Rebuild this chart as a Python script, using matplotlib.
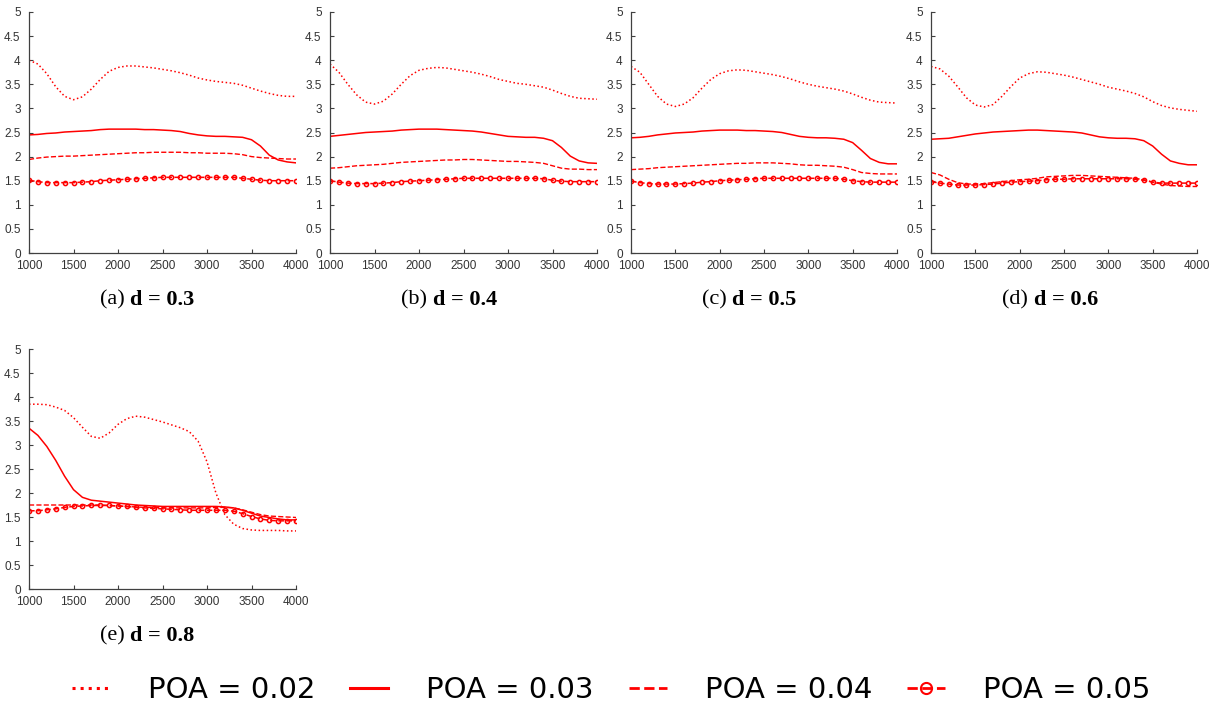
import numpy as np
import matplotlib
matplotlib.use("Agg")
from matplotlib import pyplot as plt
from matplotlib.lines import Line2D
from matplotlib.ticker import FormatStrFormatter

# frequency axis, one value every 100
freq = list(range(1000, 4001, 100))

panel_tags = ["(a)", "(b)", "(c)", "(d)", "(e)"]
panel_d = ["d = 0.3", "d = 0.4", "d = 0.5", "d = 0.6", "d = 0.8"]
poa_labels = ["POA = 0.02", "POA = 0.03", "POA = 0.04", "POA = 0.05"]

# d = 0.3
a_002 = [4.00, 3.92, 3.72, 3.45, 3.25, 3.18, 3.24, 3.40, 3.60, 3.77, 3.85, 3.88, 3.88, 3.86, 3.84, 3.81,
         3.78, 3.74, 3.69, 3.63, 3.59, 3.56, 3.54, 3.52, 3.48, 3.42, 3.36, 3.31, 3.27, 3.25, 3.25]
a_003 = [2.45, 2.46, 2.48, 2.49, 2.51, 2.52, 2.53, 2.54, 2.56, 2.57, 2.57, 2.57, 2.57, 2.56, 2.56, 2.55,
         2.54, 2.52, 2.48, 2.45, 2.43, 2.42, 2.42, 2.41, 2.40, 2.35, 2.22, 2.03, 1.93, 1.89, 1.87]
a_004 = [1.94, 1.97, 1.99, 2.00, 2.01, 2.01, 2.02, 2.03, 2.04, 2.05, 2.06, 2.07, 2.08, 2.08, 2.09, 2.09,
         2.09, 2.09, 2.08, 2.08, 2.07, 2.07, 2.07, 2.06, 2.04, 2.00, 1.98, 1.97, 1.96, 1.95, 1.95]
a_005 = [1.51, 1.48, 1.46, 1.46, 1.46, 1.46, 1.47, 1.48, 1.50, 1.51, 1.52, 1.53, 1.54, 1.55, 1.56, 1.57,
         1.57, 1.57, 1.57, 1.57, 1.57, 1.57, 1.57, 1.57, 1.55, 1.53, 1.51, 1.50, 1.50, 1.50, 1.50]

# d = 0.4
b_002 = [3.92, 3.75, 3.50, 3.28, 3.13, 3.09, 3.15, 3.30, 3.50, 3.68, 3.79, 3.83, 3.85, 3.84, 3.81, 3.78,
         3.75, 3.71, 3.66, 3.60, 3.56, 3.52, 3.50, 3.47, 3.44, 3.38, 3.31, 3.25, 3.21, 3.20, 3.19]
b_003 = [2.42, 2.44, 2.46, 2.48, 2.50, 2.51, 2.52, 2.53, 2.55, 2.56, 2.57, 2.57, 2.57, 2.56, 2.55, 2.54,
         2.53, 2.51, 2.48, 2.45, 2.42, 2.41, 2.40, 2.40, 2.38, 2.33, 2.19, 2.01, 1.91, 1.87, 1.86]
b_004 = [1.76, 1.77, 1.79, 1.81, 1.82, 1.83, 1.84, 1.86, 1.88, 1.89, 1.90, 1.91, 1.92, 1.93, 1.93, 1.94,
         1.94, 1.93, 1.92, 1.91, 1.90, 1.90, 1.89, 1.88, 1.86, 1.81, 1.76, 1.74, 1.74, 1.73, 1.73]
b_005 = [1.50, 1.47, 1.45, 1.44, 1.44, 1.44, 1.45, 1.46, 1.48, 1.49, 1.50, 1.51, 1.52, 1.53, 1.54, 1.55,
         1.55, 1.55, 1.55, 1.55, 1.55, 1.55, 1.55, 1.55, 1.54, 1.51, 1.49, 1.48, 1.48, 1.48, 1.48]

# d = 0.5
c_002 = [3.87, 3.75, 3.50, 3.25, 3.09, 3.04, 3.09, 3.22, 3.42, 3.60, 3.72, 3.78, 3.80, 3.79, 3.76, 3.73,
         3.70, 3.66, 3.61, 3.55, 3.50, 3.46, 3.43, 3.40, 3.36, 3.30, 3.23, 3.17, 3.13, 3.12, 3.11]
c_003 = [2.39, 2.40, 2.42, 2.45, 2.47, 2.49, 2.50, 2.51, 2.53, 2.54, 2.55, 2.55, 2.55, 2.54, 2.54, 2.53,
         2.52, 2.50, 2.46, 2.42, 2.40, 2.39, 2.39, 2.38, 2.36, 2.29, 2.13, 1.96, 1.88, 1.85, 1.85]
c_004 = [1.73, 1.74, 1.75, 1.77, 1.78, 1.79, 1.80, 1.81, 1.82, 1.83, 1.84, 1.85, 1.86, 1.86, 1.87, 1.87,
         1.87, 1.86, 1.85, 1.83, 1.82, 1.82, 1.81, 1.80, 1.78, 1.73, 1.67, 1.65, 1.64, 1.64, 1.64]
c_005 = [1.49, 1.46, 1.44, 1.43, 1.43, 1.43, 1.44, 1.45, 1.47, 1.48, 1.50, 1.51, 1.52, 1.53, 1.54, 1.55,
         1.55, 1.55, 1.55, 1.55, 1.55, 1.55, 1.55, 1.55, 1.53, 1.50, 1.48, 1.47, 1.47, 1.47, 1.47]

# d = 0.6
d_002 = [3.87, 3.82, 3.67, 3.45, 3.22, 3.07, 3.03, 3.08, 3.25, 3.45, 3.63, 3.72, 3.76, 3.75, 3.72, 3.69,
         3.65, 3.60, 3.55, 3.50, 3.44, 3.40, 3.36, 3.31, 3.24, 3.14, 3.06, 3.01, 2.98, 2.96, 2.94]
d_003 = [2.36, 2.37, 2.38, 2.41, 2.44, 2.47, 2.49, 2.51, 2.52, 2.53, 2.54, 2.55, 2.55, 2.54, 2.53, 2.52,
         2.51, 2.49, 2.45, 2.41, 2.39, 2.38, 2.38, 2.37, 2.33, 2.22, 2.05, 1.91, 1.86, 1.83, 1.83]
d_004 = [1.67, 1.62, 1.53, 1.46, 1.43, 1.43, 1.44, 1.46, 1.48, 1.50, 1.52, 1.53, 1.55, 1.58, 1.59, 1.60,
         1.61, 1.61, 1.60, 1.59, 1.58, 1.57, 1.56, 1.55, 1.52, 1.47, 1.43, 1.40, 1.39, 1.38, 1.38]
d_005 = [1.48, 1.45, 1.43, 1.41, 1.41, 1.41, 1.42, 1.43, 1.45, 1.47, 1.48, 1.49, 1.50, 1.52, 1.53, 1.53,
         1.54, 1.54, 1.54, 1.54, 1.54, 1.54, 1.54, 1.53, 1.51, 1.47, 1.45, 1.45, 1.45, 1.45, 1.45]

# d = 0.8
e_002 = [3.85, 3.85, 3.84, 3.79, 3.72, 3.57, 3.37, 3.18, 3.14, 3.25, 3.43, 3.55, 3.60, 3.58, 3.53, 3.48,
         3.42, 3.36, 3.28, 3.08, 2.65, 2.00, 1.55, 1.35, 1.26, 1.23, 1.22, 1.22, 1.22, 1.21, 1.21]
e_003 = [3.35, 3.20, 2.97, 2.68, 2.35, 2.07, 1.91, 1.85, 1.83, 1.81, 1.79, 1.77, 1.75, 1.74, 1.73, 1.72,
         1.72, 1.72, 1.72, 1.72, 1.72, 1.72, 1.71, 1.69, 1.64, 1.58, 1.52, 1.49, 1.46, 1.44, 1.44]
e_004 = [1.75, 1.75, 1.75, 1.75, 1.75, 1.75, 1.75, 1.75, 1.75, 1.74, 1.73, 1.72, 1.71, 1.70, 1.70, 1.69,
         1.69, 1.69, 1.69, 1.69, 1.69, 1.70, 1.70, 1.69, 1.65, 1.60, 1.55, 1.52, 1.51, 1.50, 1.49]
e_005 = [1.63, 1.63, 1.65, 1.67, 1.70, 1.72, 1.73, 1.74, 1.74, 1.74, 1.73, 1.72, 1.70, 1.69, 1.68, 1.67,
         1.66, 1.65, 1.64, 1.64, 1.64, 1.64, 1.64, 1.62, 1.57, 1.51, 1.46, 1.43, 1.42, 1.42, 1.42]

panels = [
    [a_002, a_003, a_004, a_005],
    [b_002, b_003, b_004, b_005],
    [c_002, c_003, c_004, c_005],
    [d_002, d_003, d_004, d_005],
    [e_002, e_003, e_004, e_005],
]

W, H = 1215, 713
# axes boxes in pixels: left, top, right, bottom
boxes = [(29, 12, 296, 253), (330, 12, 597, 253), (631, 12, 897, 253),
         (931, 12, 1197, 253), (29, 349, 296, 589)]

RED = "#ff0000"
AXC = "#404040"
styles = [dict(ls=":", lw=1.1),
          dict(ls="-", lw=1.1),
          dict(ls="--", lw=1.0),
          dict(ls="--", lw=1.1, marker="o", ms=3.0, mfc="none", mew=1.1)]

fig = plt.figure(figsize=(W / 100, H / 100), dpi=100)

for i, series in enumerate(panels):
    l, t, r, b = boxes[i]
    ax = fig.add_axes([l / W, 1 - b / H, (r - l) / W, (b - t) / H])
    for vals, st in zip(series, styles):
        ax.plot(freq, vals, color=RED, **st)
    ax.set_xlim(1000, 4000)
    ax.set_ylim(0, 5)
    ax.set_xticks(np.arange(1000, 4001, 500))
    ax.set_yticks(np.arange(0, 5.01, 0.5))
    ax.yaxis.set_major_formatter(FormatStrFormatter("%g"))
    for s in ["top", "right"]:
        ax.spines[s].set_visible(False)
    for s in ["left", "bottom"]:
        ax.spines[s].set_color(AXC)
        ax.spines[s].set_linewidth(0.9)
    ax.tick_params(direction="in", length=3, width=0.8, color=AXC, labelcolor="#333333",
                   labelsize=8.5)
    ax.tick_params(axis="x", pad=5)
    ax.tick_params(axis="y", pad=6)
    for lab in ax.get_xticklabels() + ax.get_yticklabels():
        lab.set_family("Liberation Sans")

    # caption under the panel
    cy = 1 - (b + 47) / H
    t1 = fig.text((l + 71) / W, cy, panel_tags[i] + " ", family="Liberation Serif",
                  fontsize=16, ha="left", va="center")
    ax.annotate(panel_d[i], xy=(1, 0.5), xycoords=t1, xytext=(0, 0), textcoords="offset points",
                family="Liberation Serif", fontweight="bold", fontsize=16, ha="left", va="center")

handles = [Line2D([], [], color=RED, ls=":", lw=2.2),
           Line2D([], [], color=RED, ls="-", lw=2.2),
           Line2D([], [], color=RED, ls="--", lw=2.0),
           Line2D([], [], color=RED, ls="--", lw=2.0, marker="o", ms=8, mfc="none", mew=1.5)]
fig.legend(handles, poa_labels, loc="center", bbox_to_anchor=(0.503, 1 - 690 / H), ncol=4,
           frameon=False, prop={"family": "DejaVu Sans", "size": 21}, handlelength=1.3,
           handletextpad=1.3, columnspacing=1.2)

fig.savefig("out.png", dpi=100)
